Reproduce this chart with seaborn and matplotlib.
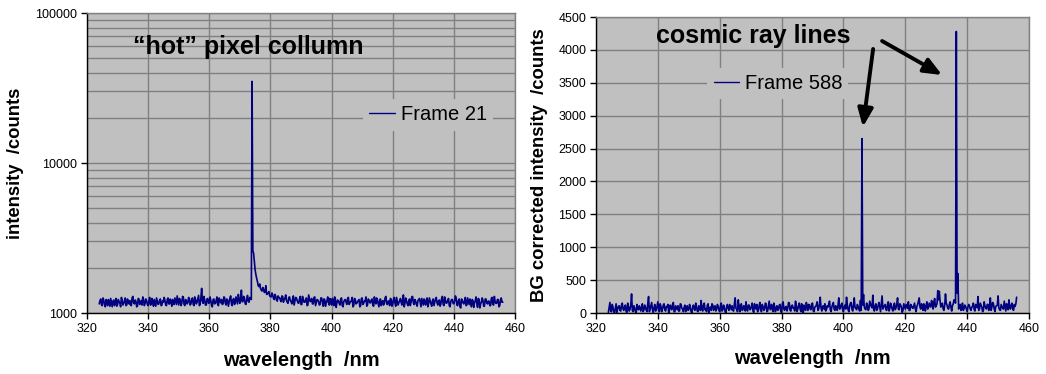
import numpy as np
import pandas as pd
import matplotlib
matplotlib.use("Agg")
import matplotlib.pyplot as plt
import seaborn as sns

# ---------------- data ----------------
# readings every 0.5 nm from 324.0 to 456.0 nm, plus the in-between readings (x + 0.25 nm)
wl_start, wl_stop, wl_step = 324.0, 456.0, 0.25

frame21_main = [
    1150, 1240, 1120, 1210, 1100, 1190, 1230, 1110, 1170, 1200,
    1120, 1250, 1140, 1190, 1100, 1220, 1160, 1260, 1130, 1180,
    1210, 1120, 1290, 1150, 1200, 1110, 1240, 1170, 1130, 1230,
    1160, 1210, 1120, 1270, 1140, 1190, 1230, 1110, 1200, 1150,
    1240, 1130, 1180, 1210, 1120, 1260, 1150, 1190, 1230, 1140,
    1200, 1300, 1130, 1220, 1160, 1280, 1120, 1210, 1170, 1240,
    1150, 1260, 1120, 1230, 1180, 1310, 1140, 1460, 1160, 1220,
    1130, 1250, 1170, 1210, 1100, 1240, 1160, 1280, 1120, 1200,
    1230, 1150, 1270, 1130, 1210, 1180, 1300, 1120, 1250, 1170,
    1210, 1330, 1160, 1420, 1190, 1260, 1140, 1310, 1180, 1240,
    35000,
    2500, 1930, 1700, 1520, 1560, 1420, 1480, 1370, 1520, 1340,
    1390, 1290, 1360, 1250, 1330, 1220, 1300, 1260, 1190, 1290,
    1230, 1320, 1180, 1270, 1210, 1150, 1300, 1200, 1260, 1170,
    1240, 1140, 1290, 1180, 1230, 1120, 1320, 1190, 1250, 1150,
    1280, 1170, 1220, 1130, 1260, 1190, 1240, 1110, 1210, 1170,
    1250, 1130, 1200, 1280, 1090, 1220, 1160, 1240, 1120, 1190,
    1230, 1140, 1270, 1170, 1210, 1100, 1250, 1150, 1190, 1230,
    1120, 1260, 1160, 1200, 1110, 1240, 1170, 1220, 1130, 1280,
    1150, 1210, 1100, 1240, 1180, 1130, 1260, 1160, 1200, 1120,
    1230, 1150, 1270, 1110, 1200, 1170, 1250, 1130, 1320, 1160,
    1210, 1120, 1240, 1180, 1290, 1140, 1200, 1110, 1230, 1170,
    1250, 1130, 1190, 1220, 1100, 1260, 1150, 1210, 1120, 1240,
    1170, 1200, 1110, 1250, 1140, 1280, 1160, 1220, 1120, 1190,
    1230, 1150, 1300, 1130, 1210, 1100, 1240, 1170, 1200, 1120,
    1260, 1140, 1190, 1230, 1090, 1210, 1160, 1250, 1080, 1180,
    1220, 1110, 1240, 1150, 1200, 1120, 1270, 1130, 1190, 1160,
    1230, 1120, 1260, 1180,
]
frame21_mid = [
    1210, 1130, 1260, 1140, 1230, 1120, 1180, 1250, 1100, 1220,
    1190, 1110, 1230, 1160, 1270, 1130, 1200, 1120, 1240, 1150,
    1130, 1260, 1170, 1220, 1100, 1250, 1140, 1210, 1280, 1120,
    1240, 1140, 1200, 1130, 1250, 1110, 1170, 1260, 1140, 1220,
    1120, 1210, 1270, 1130, 1230, 1150, 1240, 1110, 1180, 1260,
    1140, 1210, 1250, 1120, 1290, 1140, 1230, 1150, 1270, 1130,
    1230, 1140, 1280, 1150, 1240, 1120, 1260, 1200, 1290, 1130,
    1240, 1160, 1280, 1120, 1230, 1150, 1210, 1140, 1260, 1170,
    1140, 1280, 1160, 1240, 1110, 1260, 1150, 1230, 1140, 1280,
    1150, 1250, 1230, 1190, 1290, 1150, 1230, 1200, 1270, 1230,
    2600, 2200, 1800, 1620, 1500, 1460, 1400, 1440, 1380, 1330,
    1360, 1300, 1280,
    1320, 1230, 1290, 1200, 1270, 1220, 1300, 1180, 1250, 1210,
    1160, 1280, 1190, 1240, 1130, 1270, 1210, 1160, 1290, 1140,
    1220, 1180, 1260, 1130, 1250, 1200, 1150, 1270, 1120, 1230,
    1190, 1140, 1260, 1110, 1230, 1170, 1280, 1130, 1210, 1250,
    1120, 1240, 1170, 1200, 1130, 1260, 1100, 1220, 1180, 1250,
    1140, 1190, 1270, 1120, 1230, 1160, 1210, 1100, 1250, 1140,
    1200, 1280, 1130, 1220, 1170, 1240, 1110, 1190, 1260, 1150,
    1230, 1120, 1210, 1170, 1290, 1140, 1200, 1250, 1110, 1230,
    1160, 1270, 1130, 1210, 1180, 1240, 1100, 1260, 1150, 1200,
    1120, 1280, 1170, 1230, 1140, 1210, 1250, 1100, 1190, 1240,
    1130, 1260, 1160, 1200, 1110, 1240, 1180, 1270, 1130, 1220,
    1150, 1290, 1120, 1210, 1170, 1250, 1100, 1230, 1160, 1200,
    1260, 1120, 1240, 1080, 1220, 1150, 1270, 1130, 1200, 1240,
    1100, 1210, 1170, 1280, 1090, 1230, 1150, 1260, 1110, 1240,
    1170, 1200, 1120, 1250, 1140, 1290, 1160, 1230, 1100, 1220,
    1180,
]

frame588_main = [
    10, 160, 20, 90, 0, 140, 60, 110, 30, 150,
    40, 120, 10, 100, 60, 290, 20, 80, 0, 70,
    110, 30, 140, 50, 90, 20, 250, 60, 160, 10,
    130, 40, 170, 20, 100, 60, 140, 30, 90, 0,
    120, 50, 160, 20, 80, 110, 30, 130, 60, 90,
    20, 110, 50, 80, 0, 120, 40, 100, 20, 70,
    190, 30, 150, 60, 120, 10, 90, 140, 40, 110,
    60, 100, 20, 150, 50, 80, 0, 130, 40, 90,
    110, 30, 230, 60, 200, 20, 140, 50, 100, 170,
    30, 120, 60, 150, 10, 90, 130, 40, 160, 20,
    100, 60, 140, 30, 180, 50, 90, 150, 20, 110,
    60, 130, 10, 170, 40, 100, 70, 150, 30, 120,
    80, 180, 20, 110, 60, 140, 0, 90, 160, 40,
    120, 50, 150, 20, 100, 170, 60, 240, 30, 110,
    140, 50, 90, 180, 20, 130, 60, 110, 40, 230,
    70, 150, 20, 120, 240, 50, 100, 160, 30, 230,
    80, 130, 60, 190,
    2650,
    280, 60, 150, 40, 180, 100, 270, 30, 140,
    60, 160, 20, 260, 90, 130, 40, 170, 70, 110,
    30, 150, 80, 230, 50, 120, 10, 140, 60, 100,
    170, 40, 110, 70, 150, 20, 130, 230, 60, 100,
    140, 30, 170, 80, 120, 190, 60, 220, 110, 340,
    330, 90, 150, 40, 290, 120, 60, 170, 30, 140,
    180, 4280, 600,
    120, 40, 150, 70, 100, 20, 130, 60, 90,
    150, 30, 110, 250, 60, 120, 20, 170, 80, 130,
    40, 230, 90, 140, 20, 110, 260, 50, 130, 70,
    180, 30, 120, 200, 60, 150, 40, 100, 240,
]
frame588_mid = [
    80, 30, 130, 20, 70, 10, 100, 40, 120, 60,
    90, 20, 150, 30, 120, 40, 110, 20, 130, 50,
    70, 100, 20, 120, 40, 150, 20, 110, 50, 80,
    30, 110, 60, 140, 20, 120, 50, 100, 130, 40,
    80, 130, 20, 110, 50, 30, 140, 70, 20, 120,
    70, 40, 130, 20, 90, 60, 150, 30, 110, 40,
    60, 120, 50, 20, 140, 70, 40, 120, 90, 30,
    130, 40, 110, 30, 120, 20, 100, 70, 130, 50,
    40, 140, 70, 20, 100, 120, 40, 110, 30, 60,
    120, 50, 100, 30, 140, 60, 20, 110, 50, 130,
    40, 150, 20, 110, 60, 130, 20, 100, 70, 40,
    120, 20, 140, 60, 90, 30, 160, 40, 110, 70,
    30, 120, 60, 150, 20, 80, 120, 40, 110, 130,
    60, 140, 30, 90, 120, 40, 130, 80, 100, 60,
    30, 110, 130, 50, 90, 160, 40, 80, 120, 60,
    120, 50, 100, 60, 130, 20, 150, 60, 120, 80,
    50, 100, 30, 40,
    120, 90, 50, 120, 60, 140, 80, 60, 110, 40,
    120, 90, 140, 60, 110, 50, 130, 30, 150, 60,
    110, 50, 130, 60, 140, 90, 40, 100, 130, 70,
    40, 130, 80, 110, 60, 100, 180, 90, 140, 40,
    100, 120, 60, 150, 90, 130, 170, 90, 140, 200,
    180, 130, 60, 120, 150, 70, 130, 90, 110, 200,
    150, 300,
    60, 130, 80, 40, 120, 60, 90, 110, 40,
    100, 60, 130, 80, 40, 150, 90, 40, 110, 60,
    130, 90, 40, 160, 60, 100, 120, 80, 40, 100,
    60, 110, 140, 50, 90, 120, 60, 130, 140,
]

series1_name = "Frame 21"
series2_name = "Frame 588"
x_ticks = [320, 340, 360, 380, 400, 420, 440, 460]
y1_ticks = [1000, 10000, 100000]
y2_ticks = [0, 500, 1000, 1500, 2000, 2500, 3000, 3500, 4000, 4500]


def interleave(main, mid):
    out = np.empty(len(main) + len(mid), dtype=float)
    out[0::2] = main
    out[1::2] = mid
    return out


wavelength = np.arange(wl_start, wl_stop + wl_step / 2, wl_step)
df1 = pd.DataFrame({"wavelength": wavelength,
                    "intensity": interleave(frame21_main, frame21_mid)})
df2 = pd.DataFrame({"wavelength": wavelength,
                    "intensity": interleave(frame588_main, frame588_mid)})

# ---------------- style ----------------
sns.set_theme(style="ticks")
plt.rcParams["font.family"] = ["Liberation Sans", "DejaVu Sans"]
plt.rcParams["text.color"] = "black"
plt.rcParams["axes.labelcolor"] = "black"
plt.rcParams["xtick.color"] = "black"
plt.rcParams["ytick.color"] = "black"

BG = "#C0C0C0"
GRID = "#808080"
LINE = "#000080"

fig = plt.figure(figsize=(10.46, 3.74), dpi=100)
ax1 = fig.add_axes([87 / 1046, 61 / 374, 428 / 1046, 300 / 374])
ax2 = fig.add_axes([596 / 1046, 61 / 374, 433 / 1046, 296 / 374])


def style_axes(ax):
    ax.set_facecolor(BG)
    ax.set_axisbelow(True)
    for s in ["top", "right"]:
        ax.spines[s].set_color(GRID)
        ax.spines[s].set_linewidth(1.0)
    for s in ["left", "bottom"]:
        ax.spines[s].set_color("black")
        ax.spines[s].set_linewidth(1.0)
    ax.tick_params(axis="both", which="major", direction="out", length=4,
                   width=1, color="black", labelsize=9, labelcolor="black", pad=3)
    ax.tick_params(axis="both", which="minor", length=0)


# ---- left panel ----
sns.lineplot(data=df1, x="wavelength", y="intensity", ax=ax1, color=LINE,
             linewidth=1.2, estimator=None, label=series1_name)
ax1.set_yscale("log")
ax1.set_xlim(320, 460)
ax1.set_ylim(1000, 100000)
ax1.set_xticks(x_ticks)
ax1.set_yticks(y1_ticks)
ax1.set_yticklabels([str(v) for v in y1_ticks])
ax1.yaxis.set_minor_locator(matplotlib.ticker.LogLocator(base=10, subs=np.arange(2, 10)))
ax1.yaxis.set_minor_formatter(matplotlib.ticker.NullFormatter())
style_axes(ax1)
ax1.grid(True, which="both", axis="y", color=GRID, linewidth=1.0)
ax1.grid(True, which="major", axis="x", color=GRID, linewidth=1.0)
ax1.set_xlabel("wavelength  /nm", fontsize=14.5, fontweight="bold")
ax1.set_ylabel("intensity  /counts", fontsize=13.3, fontweight="bold")
ax1.xaxis.set_label_coords(0.5, -0.125)
ax1.yaxis.set_label_coords(-0.148, 0.5)
ax1.text(0.107, 0.887, "\u201chot\u201d pixel collumn", transform=ax1.transAxes,
         fontsize=18, fontweight="bold", va="center", ha="left", color="black")
leg1 = ax1.legend(loc="center", bbox_to_anchor=(0.797, 0.66), fontsize=14.5,
                  frameon=True, facecolor=BG, edgecolor="none", framealpha=1,
                  handlelength=1.25, handletextpad=0.3, borderpad=0.3)
for h in leg1.get_lines():
    h.set_linewidth(1.0)
for t in leg1.get_texts():
    t.set_color("black")

# ---- right panel ----
sns.lineplot(data=df2, x="wavelength", y="intensity", ax=ax2, color=LINE,
             linewidth=1.2, estimator=None, label=series2_name)
ax2.set_xlim(320, 460)
ax2.set_ylim(0, 4500)
ax2.set_xticks(x_ticks)
ax2.set_yticks(y2_ticks)
style_axes(ax2)
ax2.grid(True, which="major", axis="both", color=GRID, linewidth=1.0)
ax2.set_xlabel("wavelength  /nm", fontsize=14.5, fontweight="bold")
ax2.set_ylabel("BG corrected intensity  /counts", fontsize=13.3, fontweight="bold")
ax2.xaxis.set_label_coords(0.5, -0.12)
ax2.yaxis.set_label_coords(-0.11, 0.5)
ax2.text(0.139, 0.936, "cosmic ray lines", transform=ax2.transAxes,
         fontsize=18, fontweight="bold", va="center", ha="left", color="black")
leg2 = ax2.legend(loc="center", bbox_to_anchor=(0.42, 0.774), fontsize=14.5,
                  frameon=True, facecolor=BG, edgecolor="none", framealpha=1,
                  handlelength=1.25, handletextpad=0.3, borderpad=0.3)
for h in leg2.get_lines():
    h.set_linewidth(1.0)
for t in leg2.get_texts():
    t.set_color("black")

arrow_kw = dict(arrowstyle="-|>,head_length=0.9,head_width=0.38", color="black",
                lw=2.8, shrinkA=0, shrinkB=0)
ax2.annotate("", xy=(406.3, 2830), xytext=(409.6, 4014), arrowprops=arrow_kw)
ax2.annotate("", xy=(431.9, 3618), xytext=(412.5, 4135), arrowprops=arrow_kw)

fig.savefig("out.png", dpi=100)
